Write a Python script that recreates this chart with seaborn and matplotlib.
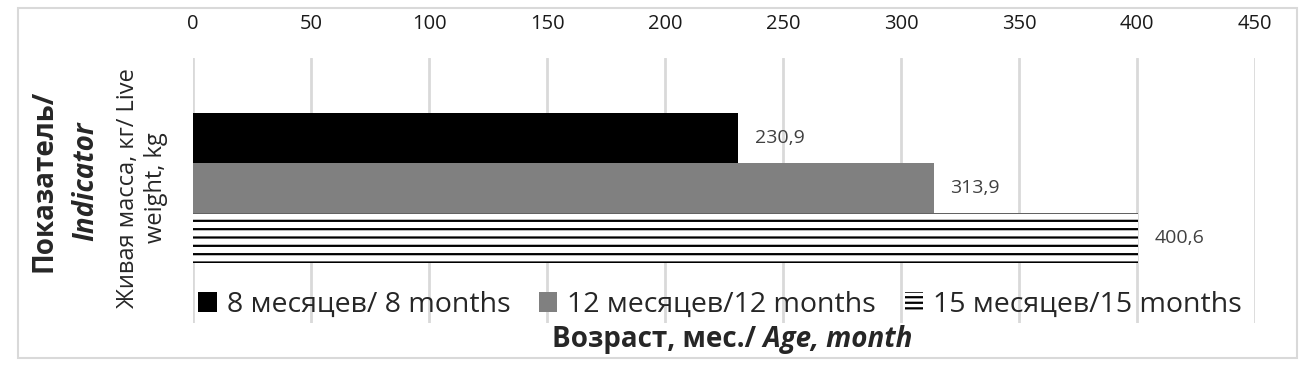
import pandas as pd
import matplotlib.pyplot as plt
import seaborn as sns
from matplotlib.patches import Patch, Rectangle

# data
indicator = ["Живая масса, кг/ Live\nweight, kg"]
ages = ["8 месяцев/ 8 months", "12 месяцев/12 months", "15 месяцев/15 months"]
live_weight = [230.9, 313.9, 400.6]
x_ticks = [0, 50, 100, 150, 200, 250, 300, 350, 400, 450]

df = pd.DataFrame({'Indicator': indicator * len(ages), 'Age': ages, 'Weight': live_weight})

sns.set_style('white')
plt.rcParams['font.family'] = ['Open Sans', 'DejaVu Sans']
plt.rcParams['hatch.linewidth'] = 1.6
plt.rcParams['hatch.color'] = 'black'

fig = plt.figure(figsize=(13.13, 3.73), dpi=100)
ax = fig.add_axes([193 / 1313, 1 - 323 / 373, (1255 - 193) / 1313, (323 - 58) / 373])

sns.barplot(data=df, x='Weight', y='Indicator', hue='Age', palette=['black', '#808080', 'white'],
            saturation=1, width=0.8, linewidth=0, ax=ax, legend=False)

# hatched bar for 15 months
for bar in ax.containers[2]:
    bar.set_hatch('--')
    bar.set_edgecolor('black')
    bar.set_linewidth(0)

for cont, v in zip(ax.containers, live_weight):
    ax.bar_label(cont, labels=[f"{v:.1f}".replace('.', ',')], padding=12, fontsize=14, color='#404040')

ax.set_xlim(0, 450)
ax.set_ylim(0.72, -0.693)
ax.set_xticks(x_ticks)
ax.xaxis.tick_top()
ax.tick_params(axis='x', length=0, pad=17, labelsize=14.5, labelcolor='#1a1a1a')
ax.tick_params(axis='y', length=0, pad=18)
ax.set_yticks([0])
ax.set_yticklabels(indicator, rotation=90, va='center', ha='right', multialignment='center', fontsize=17)
ax.grid(axis='x', color='#d9d9d9', linewidth=2)
ax.set_axisbelow(True)
for s in ax.spines.values():
    s.set_visible(False)
ax.set_xlabel('')
ax.set_ylabel('')

# axis titles (bold + bold italic parts)
fig.text(44 / 1313, 1 - 181 / 373, 'Показатель/', rotation=90, ha='center', va='center', fontsize=20, weight='bold')
fig.text(86 / 1313, 1 - 181 / 373, 'Indicator', rotation=90, ha='center', va='center', fontsize=20,
         weight='bold', style='italic')
t1 = fig.text(756 / 1313, 1 - 339 / 373, 'Возраст, мес./', ha='right', va='center', fontsize=20, weight='bold')
ax.annotate(' Age, month', xy=(1, 0), xycoords=t1, ha='left', va='bottom', fontsize=20,
            weight='bold', style='italic', annotation_clip=False)

handles = [Patch(facecolor='black', lw=0), Patch(facecolor='#808080', lw=0),
           Patch(facecolor='white', hatch='---', edgecolor='black', lw=0)]
fig.legend(handles, ages, loc='center', bbox_to_anchor=(720 / 1313, 1 - 305 / 373), ncol=3, frameon=False,
           fontsize=20.5, handlelength=0.65, handleheight=0.65, handletextpad=0.35, columnspacing=1.0)

fig.add_artist(Rectangle((18 / 1313, 1 - 358 / 373), (1297 - 18) / 1313, 350 / 373, transform=fig.transFigure,
                         fill=False, edgecolor='#d9d9d9', lw=1.5))

plt.savefig('out.png', dpi=100)
